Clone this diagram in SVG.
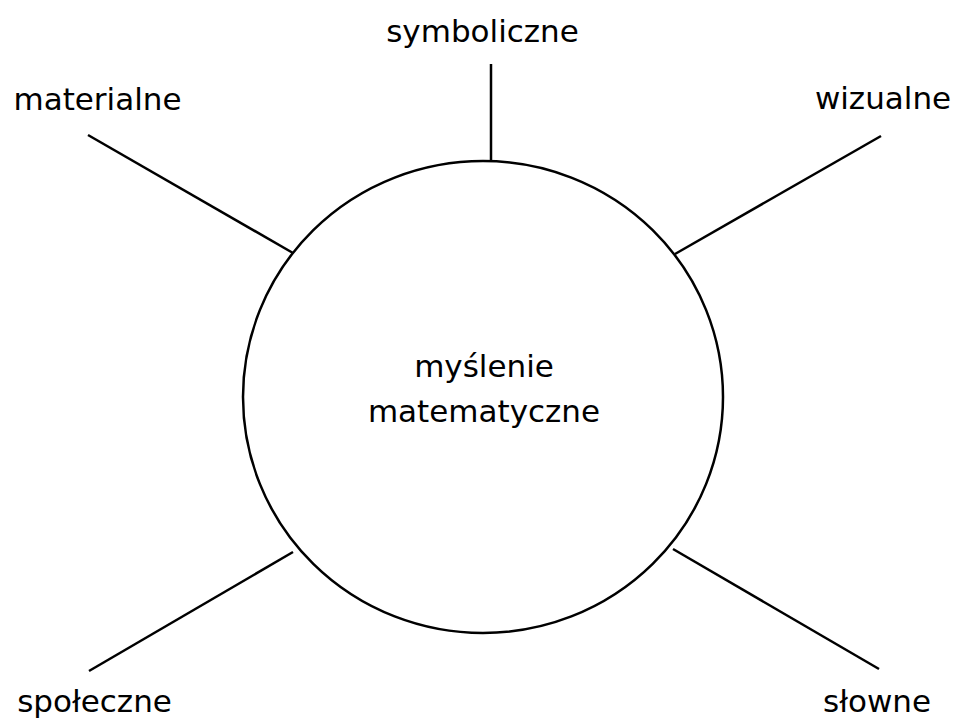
<svg xmlns="http://www.w3.org/2000/svg" width="953" height="720" viewBox="0 0 953 720">
<style>
.lbl{font-family:"Comic Sans MS","DejaVu Sans",sans-serif;font-size:31px;fill:#000;text-anchor:middle}
.ln{stroke:#000;stroke-width:2.5;fill:none}
</style>
<rect width="953" height="720" fill="#fff"/>
<g id="connectors">
<line class="ln" x1="491" y1="64" x2="491" y2="161"/>
<line class="ln" x1="88" y1="135" x2="293" y2="253"/>
<line class="ln" x1="881" y1="136" x2="675" y2="254"/>
<line class="ln" x1="293" y1="552" x2="89" y2="671"/>
<line class="ln" x1="673" y1="549" x2="879" y2="669"/>
</g>
<g id="center">
<ellipse class="ln" cx="483" cy="397" rx="240" ry="236" fill="#fff"/>
<text class="lbl" x="484" y="377">myślenie</text>
<text class="lbl" x="484" y="422">matematyczne</text>
</g>
<g id="symboliczne"><text class="lbl" x="482.5" y="42">symboliczne</text></g>
<g id="materialne"><text class="lbl" x="97.5" y="110">materialne</text></g>
<g id="wizualne"><text class="lbl" x="883" y="109">wizualne</text></g>
<g id="spoleczne"><text class="lbl" x="94.5" y="712">społeczne</text></g>
<g id="slowne"><text class="lbl" x="877" y="712">słowne</text></g>
</svg>
